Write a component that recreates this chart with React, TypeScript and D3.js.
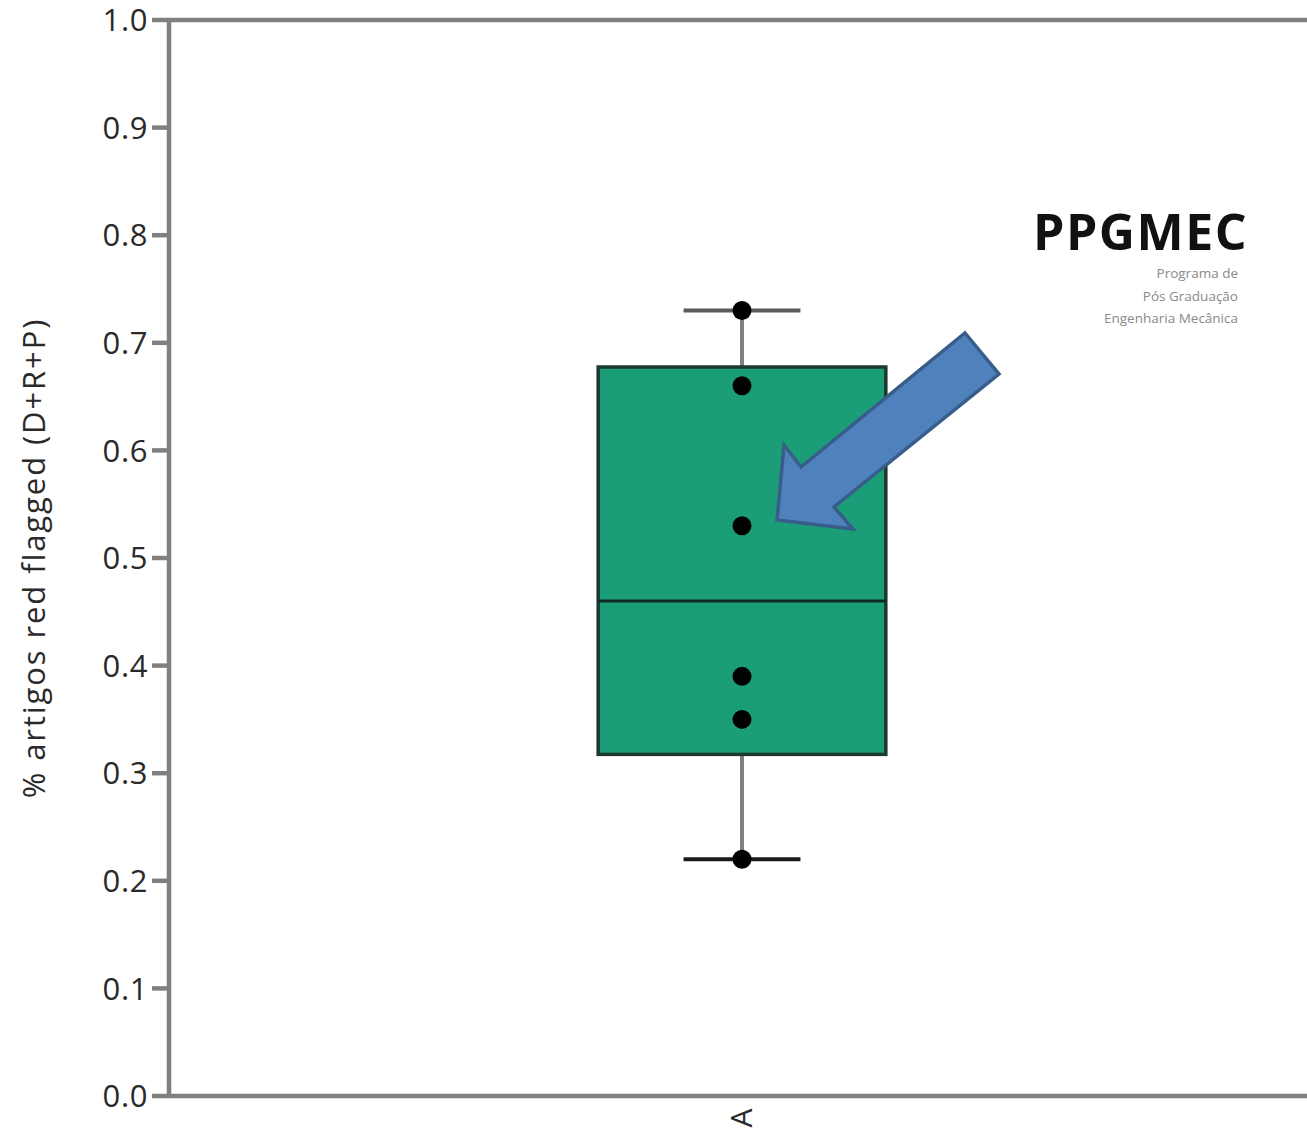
import React from "react";
import * as d3 from "d3";

const categories = ["A"];
const seriesValues = [0.22, 0.35, 0.39, 0.53, 0.66, 0.73];
const yTicks = [0, 0.1, 0.2, 0.3, 0.4, 0.5, 0.6, 0.7, 0.8, 0.9, 1.0];
const yLabel = "% artigos red flagged (D+R+P)";
const logoTitle = "PPGMEC";
const logoLines = ["Programa de", "Pós Graduação", "Engenharia Mecânica"];

const W = 1307;
const H = 1132;
const margin = { left: 169, top: 20, right: -8, bottom: 36 };

// Minitab-style (type 6) quantile
function q6(sorted: number[], p: number) {
  const n = sorted.length;
  const h = (n + 1) * p;
  const lo = Math.floor(h);
  if (lo < 1) return sorted[0];
  if (lo >= n) return sorted[n - 1];
  return sorted[lo - 1] + (h - lo) * (sorted[lo] - sorted[lo - 1]);
}

export default function App() {
  const x = d3
    .scaleBand<string>()
    .domain(categories)
    .range([margin.left, W - margin.right])
    .paddingInner(0)
    .paddingOuter(0);
  const y = d3.scaleLinear().domain([0, 1]).range([H - margin.bottom, margin.top]);

  const sorted = [...seriesValues].sort(d3.ascending);
  const q1 = q6(sorted, 0.25);
  const med = q6(sorted, 0.5);
  const q3 = q6(sorted, 0.75);
  const lo = d3.min(sorted)!;
  const hi = d3.max(sorted)!;

  const cat = categories[0];
  const bw = x.bandwidth();
  const cx = (x(cat) as number) + bw / 2;
  const boxW = bw * 0.251;
  const capW = bw * 0.102;

  const axisColor = "#808080";
  const font = "'Open Sans', 'Noto Sans', sans-serif";

  // arrow annotation (pixel geometry)
  const arrowPts: [number, number][] = [
    [965, 333],
    [999, 374],
    [834, 507],
    [853, 529],
    [777, 520],
    [784, 445],
    [801, 467],
  ];

  return (
    <svg
      width={W}
      height={H}
      style={{ position: "absolute", left: 0, top: 0, background: "#fff" }}
    >
      {/* frame lines */}
      <line x1={margin.left} x2={W} y1={y(1)} y2={y(1)} stroke={axisColor} strokeWidth={4.5} />
      <line x1={margin.left} x2={W} y1={y(0)} y2={y(0)} stroke={axisColor} strokeWidth={4.5} />
      <line x1={margin.left} x2={margin.left} y1={y(1) - 2} y2={y(0) + 2} stroke={axisColor} strokeWidth={4.5} />

      {/* y ticks */}
      {yTicks.map((t) => (
        <g key={t}>
          <line x1={152} x2={margin.left} y1={y(t)} y2={y(t)} stroke={axisColor} strokeWidth={4.5} />
          <text
            x={148}
            y={y(t)}
            dy="0.36em"
            textAnchor="end"
            fontFamily={font}
            fontSize={31}
            letterSpacing={0.6}
            fill="#2a2a2a"
          >
            {t.toFixed(1)}
          </text>
        </g>
      ))}

      {/* y label */}
      <text
        transform={`translate(45, ${(y(0) + y(1)) / 2}) rotate(-90)`}
        textAnchor="middle"
        fontFamily={font}
        fontSize={31}
        letterSpacing={1.9}
        fill="#2a2a2a"
      >
        {yLabel}
      </text>

      {/* x category label */}
      <text
        transform={`translate(${cx + 10}, ${y(0) + 22}) rotate(-90)`}
        textAnchor="middle"
        fontFamily={font}
        fontSize={30}
        fill="#2a2a2a"
      >
        {cat}
      </text>

      {/* whiskers */}
      <line x1={cx} x2={cx} y1={y(hi)} y2={y(q3)} stroke={axisColor} strokeWidth={4} />
      <line x1={cx} x2={cx} y1={y(q1)} y2={y(lo)} stroke={axisColor} strokeWidth={4} />
      <line x1={cx - capW / 2} x2={cx + capW / 2} y1={y(hi)} y2={y(hi)} stroke="#5a5a5a" strokeWidth={4} />
      <line x1={cx - capW / 2} x2={cx + capW / 2} y1={y(lo)} y2={y(lo)} stroke="#1a1a1a" strokeWidth={4} />

      {/* box */}
      <rect
        x={cx - boxW / 2}
        y={y(q3)}
        width={boxW}
        height={y(q1) - y(q3)}
        fill="#1b9e77"
        stroke="#1c3a30"
        strokeWidth={3.5}
      />
      <line
        x1={cx - boxW / 2}
        x2={cx + boxW / 2}
        y1={y(med)}
        y2={y(med)}
        stroke="#0f2a22"
        strokeWidth={3}
      />

      {/* points */}
      {seriesValues.map((v, i) => (
        <circle key={i} cx={cx} cy={y(v)} r={9.5} fill="#000" />
      ))}

      {/* arrow annotation */}
      <path
        d={"M" + arrowPts.map((p) => p.join(",")).join("L") + "Z"}
        fill="#4f81bd"
        stroke="#385d8a"
        strokeWidth={3.5}
        strokeLinejoin="miter"
      />

      {/* logo */}
      <text
        x={1248}
        y={250}
        textAnchor="end"
        fontFamily={font}
        fontWeight={700}
        fontSize={50}
        letterSpacing={1.5}
        fill="#111"
      >
        {logoTitle}
      </text>
      {logoLines.map((l, i) => (
        <text
          key={l}
          x={1238}
          y={278 + i * 22.5}
          textAnchor="end"
          fontFamily={font}
          fontSize={13.5}
          fill="#8a8a8a"
        >
          {l}
        </text>
      ))}
    </svg>
  );
}
